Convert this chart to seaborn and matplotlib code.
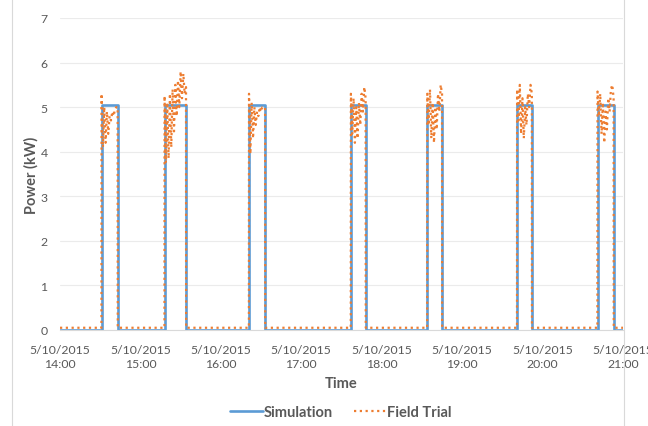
import pandas as pd
import matplotlib
matplotlib.use('Agg')
import matplotlib.pyplot as plt
from matplotlib.lines import Line2D
import seaborn as sns

# Pulse windows (start, end)
pulse_on = ['14:31', '15:18', '16:21', '17:37', '18:34', '19:41', '20:41']
pulse_off = ['14:43', '15:34', '16:33', '17:48', '18:45', '19:52', '20:53']
sim_level = 5.05
base_level = 0.05

# Field trial readings inside each pulse, one per minute
field_p1 = [5.3, 4.1, 5.0, 4.2, 4.9, 4.4, 4.8, 4.7, 4.9, 4.8, 4.95, 5.0, 5.0]
field_p2 = [5.25, 3.75, 5.1, 3.85, 5.3, 4.1, 5.4, 4.4, 5.5, 4.8, 5.6, 5.0, 5.8,
            5.2, 5.75, 5.3, 5.45]
field_p3 = [5.3, 3.95, 5.1, 4.3, 5.0, 4.6, 4.9, 4.8, 5.0, 4.9, 5.0, 5.0, 5.0]
field_p4 = [5.3, 4.4, 5.2, 4.2, 5.0, 4.3, 5.1, 4.6, 5.3, 4.9, 5.45, 5.2]
field_p5 = [5.3, 4.6, 5.4, 4.3, 5.1, 4.2, 5.0, 4.5, 5.3, 4.9, 5.5, 5.3]
field_p6 = [5.4, 4.7, 5.5, 4.4, 5.2, 4.3, 5.0, 4.6, 5.3, 5.0, 5.5, 5.3]
field_p7 = [5.35, 4.8, 5.3, 4.4, 5.1, 4.2, 4.9, 4.5, 5.2, 4.9, 5.4, 5.5, 5.2]
field_pulses = [field_p1, field_p2, field_p3, field_p4, field_p5, field_p6, field_p7]

tick_labels = ['5/10/2015\n14:00', '5/10/2015\n15:00', '5/10/2015\n16:00',
               '5/10/2015\n17:00', '5/10/2015\n18:00', '5/10/2015\n19:00',
               '5/10/2015\n20:00', '5/10/2015\n21:00']

day = '2015-05-10 '
t_start = pd.Timestamp(day + '14:00')
t_end = pd.Timestamp(day + '21:00')

# Simulation: square pulses
sim_t, sim_v = [t_start], [0.0]
for on, off in zip(pulse_on, pulse_off):
    a, b = pd.Timestamp(day + on), pd.Timestamp(day + off)
    sim_t += [a, a, b, b]
    sim_v += [0.0, sim_level, sim_level, 0.0]
sim_t.append(t_end)
sim_v.append(0.0)
sim_df = pd.DataFrame({'time': sim_t, 'power': sim_v})

# Field trial: baseline outside the pulses, readings inside
field_t, field_v = [], []
prev = t_start
for on, vals in zip(pulse_on, field_pulses):
    a = pd.Timestamp(day + on)
    for t in pd.date_range(prev, a - pd.Timedelta(seconds=30), freq='1min'):
        field_t.append(t)
        field_v.append(base_level)
    field_t.append(a - pd.Timedelta(seconds=5))
    field_v.append(base_level)
    for i, v in enumerate(vals):
        field_t.append(a + pd.Timedelta(minutes=i))
        field_v.append(v)
    last = a + pd.Timedelta(minutes=len(vals) - 1)
    field_t.append(last + pd.Timedelta(seconds=5))
    field_v.append(base_level)
    prev = last + pd.Timedelta(minutes=1)
for t in pd.date_range(prev, t_end, freq='1min'):
    field_t.append(t)
    field_v.append(base_level)
field_df = pd.DataFrame({'time': field_t, 'power': field_v})

sns.set_style('white')
plt.rcParams['font.family'] = ['Lato', 'DejaVu Sans']

blue = '#5B9BD5'
orange = '#ED7D31'
grey = '#595959'
dots = (0, (1, 1.6))

fig = plt.figure(figsize=(6.48, 4.27), dpi=100)
ax = fig.add_axes([60 / 648, 1 - 331 / 427, 563 / 648, 312 / 427])

sns.lineplot(data=sim_df, x='time', y='power', ax=ax, color=blue,
             linewidth=1.9, sort=False, estimator=None)
sns.lineplot(data=field_df, x='time', y='power', ax=ax, color=orange,
             linewidth=1.6, linestyle=dots, sort=False, estimator=None)

ax.set_xlim(t_start, t_end)
ax.set_ylim(0, 7)
ax.set_yticks(range(0, 8))
ax.set_xticks(pd.date_range(t_start, t_end, freq='1h'))
ax.set_xticklabels(tick_labels, linespacing=1.35)
ax.tick_params(axis='both', labelsize=8.8, labelcolor=grey, length=0)
ax.tick_params(axis='x', pad=10)
ax.tick_params(axis='y', pad=9)
ax.grid(axis='y', color='#EBEBEB', linewidth=0.8)
ax.set_axisbelow(True)
for s in ['left', 'top', 'right']:
    ax.spines[s].set_visible(False)
ax.spines['bottom'].set_color('#D9D9D9')

ax.set_xlabel('Time', fontsize=10.5, fontweight='bold', color=grey, labelpad=5)
ax.set_ylabel('Power (kW)', fontsize=10.5, fontweight='bold', color=grey, labelpad=1)

# chart border lines
fig.add_artist(Line2D([12 / 648, 12 / 648], [0, 1], color='#D9D9D9', linewidth=0.8))
fig.add_artist(Line2D([624 / 648, 624 / 648], [0, 1], color='#D9D9D9', linewidth=0.8))

handles = [Line2D([], [], color=blue, linewidth=1.9),
           Line2D([], [], color=orange, linewidth=1.6, linestyle=dots)]
leg = fig.legend(handles, ['Simulation', 'Field Trial'], loc='center',
                 bbox_to_anchor=(341 / 648, 1 - 413 / 427), ncol=2, frameon=False,
                 handlelength=2.2, handletextpad=0.05, columnspacing=1.5,
                 prop={'size': 10.5, 'weight': 'bold'})
for txt in leg.get_texts():
    txt.set_color(grey)

fig.savefig('out.png', dpi=100)
